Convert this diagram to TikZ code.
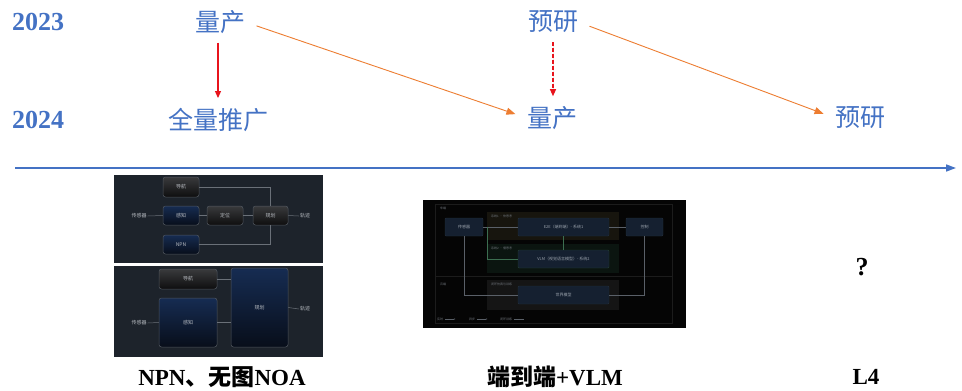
\documentclass[tikz,border=0pt]{standalone}
\usepackage{fontspec}
\setmainfont{Liberation Serif}
\newfontfamily\cjk{Noto Sans CJK SC}
\usetikzlibrary{arrows.meta}

\definecolor{yblue}{HTML}{4472C4}
\definecolor{orng}{HTML}{ED7D31}
\definecolor{rred}{HTML}{E8141C}
\definecolor{panel}{HTML}{1D232B}
\definecolor{panelB}{HTML}{050505}
\definecolor{boxedge}{HTML}{50565E}
\definecolor{lineg}{HTML}{6A7078}
\definecolor{labelA}{HTML}{B8BCC2}
\definecolor{boxB}{HTML}{152030}
\definecolor{edgeB}{HTML}{24303C}
\definecolor{labelB}{HTML}{9AA2AC}
\definecolor{noteB}{HTML}{6E737A}
\definecolor{lineB}{HTML}{5A6068}
\definecolor{frameB}{HTML}{1C1C1C}
\definecolor{navyTop}{HTML}{162C52}
\definecolor{navyBot}{HTML}{080E1A}
\definecolor{greyTop}{HTML}{393A3C}
\definecolor{greyBot}{HTML}{0E0E0F}
\definecolor{zoneA}{HTML}{17150E}
\definecolor{zoneB}{HTML}{0B1510}
\definecolor{zoneC}{HTML}{151515}
\definecolor{vlmEdge}{HTML}{244034}
\definecolor{greenLine}{HTML}{3C6E50}

\tikzset{
  year/.style={anchor=west, inner sep=0pt, text=yblue,
    font=\bfseries\fontsize{26}{26}\selectfont},
  stage/.style={inner sep=0pt, text=yblue,
    font=\cjk\fontsize{25}{25}\selectfont},
  caption/.style={inner sep=0pt, font=\bfseries\fontsize{23}{23}\selectfont},
  shift arrow/.style={draw=orng, line width=0.9pt,
    -{Triangle[length=9pt,width=7pt]}, shorten <=12pt, shorten >=12pt},
  keep arrow/.style={draw=rred, fill=rred, line width=1.1pt,
    -{Triangle[length=7pt,width=6pt]}, shorten <=9pt, shorten >=10pt},
  axis/.style={draw=yblue, line width=1.6pt, -{Triangle[length=10pt,width=7pt]}},
  % boxes inside the flow panels
  tiny/.style={text=labelA, font=\cjk\fontsize{5}{5}\selectfont, inner sep=0pt},
  grey box/.style={tiny, draw=boxedge, line width=0.5pt, rounded corners=2.5pt,
    top color=greyTop, bottom color=greyBot},
  blue box/.style={tiny, draw=boxedge, line width=0.5pt, rounded corners=2.5pt,
    top color=navyTop, bottom color=navyBot},
  flow/.style={draw=lineg, line width=0.5pt},
  % boxes of the end-to-end panel
  dark box/.style={text=labelB, font=\cjk\fontsize{4}{4}\selectfont, inner sep=0pt,
    fill=boxB, draw=edgeB, line width=0.4pt, rounded corners=1pt},
  note/.style={text=noteB, font=\cjk\fontsize{3}{3}\selectfont, inner sep=0pt, anchor=west},
  flowB/.style={draw=lineB, line width=0.4pt},
}

\begin{document}
\begin{tikzpicture}[x=1pt, y=-1pt]
\useasboundingbox[fill=white] (0,0) rectangle (962,391);

% ---- years ----
\node[year] (y2023) at (12,22) {2023};
\node[year] (y2024) at (12,120) {2024};

% ---- stages ----
\node[stage] (q23) at (220,22) {量产};
\node[stage] (qt24) at (218,120) {全量推广};
\node[stage] (p23) at (553,22) {预研};
\node[stage] (m24) at (552,118) {量产};
\node[stage] (p24) at (860,118) {预研};

\draw[keep arrow] ([xshift=-2pt]q23.south) -- ([xshift=-2pt]q23.south |- qt24.north);
\draw[keep arrow, dash pattern=on 3.5pt off 2.5pt]
  (p23.south) -- (p23.south |- m24.north);
\draw[shift arrow] (q23.east) -- (m24.west);
\draw[shift arrow] (p23.east) -- (p24.west);

% ---- time axis ----
\coordinate (ax0) at (15,168);
\coordinate (ax1) at (956,168);
\draw[axis] (ax0) -- (ax1);

% ---- panel 1: modular stack with NPN ----
\fill[panel] (114,175) rectangle (323,263);
\node[grey box, minimum width=36pt, minimum height=20pt] (nav1) at (181,187) {导航};
\node[blue box, minimum width=36pt, minimum height=19pt] (per1) at (181,215.5) {感知};
\node[blue box, minimum width=36pt, minimum height=19pt] (npn) at (181,244.5) {NPN};
\node[grey box, minimum width=36pt, minimum height=19pt] (loc) at (225,215.5) {定位};
\node[grey box, minimum width=35pt, minimum height=19pt] (plan1) at (270.5,215.5) {规划};
\node[tiny] (sen1) at (139,216) {传感器};
\node[tiny] (trk1) at (305,216) {轨迹};
\draw[flow] (nav1.east) -| (plan1.north);
\draw[flow] (npn.east) -| (plan1.south);
\draw[flow] ([xshift=1pt]sen1.east) -- (per1.west);
\draw[flow] (per1) -- (loc);
\draw[flow] (loc) -- (plan1);
\draw[flow] (plan1.east) -- ([xshift=-1pt]trk1.west);

% ---- panel 2: map-free stack ----
\fill[panel] (114,266) rectangle (323,357);
\node[grey box, minimum width=58pt, minimum height=20pt] (nav2) at (188,279) {导航};
\node[blue box, minimum width=58pt, minimum height=49pt] (per2) at (188,322.5) {感知};
\node[blue box, minimum width=57pt, minimum height=79pt] (plan2) at (259.5,307.5) {规划};
\node[tiny] (sen2) at (139,323) {传感器};
\node[tiny] (trk2) at (305,309) {轨迹};
\draw[flow] (nav2.east) -- (nav2.east -| plan2.west);
\draw[flow] (per2.east) -- (per2.east -| plan2.west);
\draw[flow] ([xshift=1pt]sen2.east) -- (per2.west);
\draw[flow] (plan2.east) -- ([xshift=-1pt]trk2.west);

% ---- panel 3: end-to-end + VLM ----
\fill[panelB] (423,200) rectangle (686,328);
\draw[frameB, line width=0.3pt] (435,204) rectangle (672,323);
\fill[zoneA] (487,212) rectangle (619,240);
\fill[zoneB] (487,244) rectangle (619,273);
\fill[zoneC] (487,280) rectangle (619,310);
\draw[frameB, line width=0.4pt] (435,276) -- (672,276);
\node[note] (car) at (440,208) {车端};
\node[note] (cloud) at (440,284) {云端};
\node[note] (sys1) at (491,216) {系统1 · 快思考};
\node[note] (sys2) at (491,248) {系统2 · 慢思考};
\node[note] (sim) at (491,284) {闭环仿真与训练};

\node[dark box, minimum width=38pt, minimum height=18pt] (sen3) at (464,227) {传感器};
\node[dark box, minimum width=91pt, minimum height=18pt] (e2e) at (563.5,227) {E2E（端到端）- 系统1};
\node[dark box, minimum width=37pt, minimum height=18pt] (ctl) at (644.5,227) {控制};
\node[dark box, minimum width=91pt, minimum height=18pt, draw=vlmEdge] (vlm) at (563.5,259) {VLM（视觉语言模型）- 系统2};
\node[dark box, minimum width=91pt, minimum height=18pt] (wm) at (563.5,295) {世界模型};

\coordinate (j1) at (487,227);
\draw[flowB] (sen3.east) -- (e2e.west);
\draw[greenLine, line width=0.4pt] (j1) |- (vlm.west);
\draw[greenLine, line width=0.4pt] (e2e.south) -- (vlm.north);
\draw[flowB] (e2e.east) -- (ctl.west);
\draw[flowB] (sen3.south) |- (wm.west);
\draw[flowB] (ctl.south) |- (wm.east);

\node[note] (lg1) at (437,319) {实时};
\node[note] (lg2) at (469,319) {异步};
\node[note] (lg3) at (500,319) {闭环训练};
\draw[flowB, -{Stealth[length=1.5pt]}] ([xshift=2pt]lg1.east) -- ++(10pt,0);
\draw[flowB, -{Stealth[length=1.5pt]}] ([xshift=2pt]lg2.east) -- ++(10pt,0);
\draw[flowB] ([xshift=2pt]lg3.east) -- ++(10pt,0);

% ---- captions ----
\node[caption] (c1) at (222,377) {NPN{\cjk\bfseries 、无图}NOA};
\node[caption] (c2) at (555,377) {{\cjk\bfseries 端到端}+VLM};
\node[caption] (c3) at (866,377) {L4};
\node[inner sep=0pt, font=\bfseries\fontsize{26}{26}\selectfont] (qm) at (862,267) {?};
\end{tikzpicture}
\end{document}
